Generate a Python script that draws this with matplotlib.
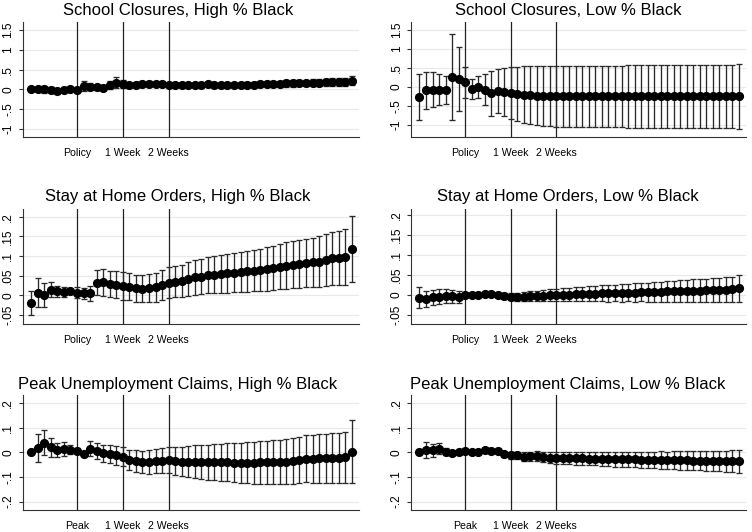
import matplotlib
matplotlib.use("Agg")
import matplotlib.pyplot as plt

plt.rcParams['font.family'] = ['Liberation Sans', 'DejaVu Sans']

# days relative to the event (policy / peak), -7 .. 42
days = list(range(-7, 43))

# School closures, high % Black
sc_high = [0.00, 0.00, 0.00, -0.01, -0.03, -0.02, 0.00, -0.01,
           0.08, 0.07, 0.05, 0.04, 0.12, 0.17, 0.13,
           0.10, 0.12, 0.14, 0.14, 0.13, 0.13, 0.12,
           0.12, 0.11, 0.10, 0.10, 0.12, 0.13, 0.12,
           0.11, 0.11, 0.11, 0.11, 0.12, 0.12, 0.13,
           0.13, 0.14, 0.14, 0.15, 0.15, 0.16, 0.16,
           0.17, 0.17, 0.18, 0.18, 0.19, 0.19, 0.22]
sc_high_ci = [0.02, 0.05, 0.08, 0.06, 0.04, 0.04, 0.04, 0.04,
              0.12, 0.09, 0.07, 0.06, 0.10, 0.14, 0.10,
              0.07, 0.07, 0.07, 0.06, 0.05, 0.04, 0.04,
              0.04, 0.04, 0.04, 0.04, 0.05, 0.05, 0.05,
              0.05, 0.05, 0.06, 0.06, 0.06, 0.06, 0.07,
              0.07, 0.07, 0.07, 0.08, 0.08, 0.08, 0.08,
              0.09, 0.09, 0.09, 0.10, 0.10, 0.10, 0.12]

# School closures, low % Black
sc_low = [-0.26, -0.09, -0.07, -0.07, -0.09, 0.26, 0.20, 0.12,
          -0.05, 0.00, -0.07, -0.17, -0.11, -0.13, -0.16,
          -0.19, -0.21, -0.22, -0.23, -0.24, -0.24, -0.25,
          -0.25, -0.25, -0.25, -0.25, -0.25, -0.25, -0.25,
          -0.25, -0.25, -0.25, -0.25, -0.25, -0.25, -0.25,
          -0.25, -0.25, -0.25, -0.25, -0.25, -0.25, -0.25,
          -0.25, -0.25, -0.25, -0.25, -0.25, -0.25, -0.25]
sc_low_ci = [0.61, 0.48, 0.45, 0.40, 0.37, 1.13, 0.84, 0.40,
             0.26, 0.28, 0.40, 0.59, 0.59, 0.63, 0.68,
             0.72, 0.75, 0.77, 0.78, 0.79, 0.79, 0.80,
             0.80, 0.80, 0.80, 0.80, 0.81, 0.81, 0.81,
             0.81, 0.81, 0.81, 0.82, 0.82, 0.82, 0.82,
             0.82, 0.82, 0.83, 0.83, 0.83, 0.83, 0.83,
             0.83, 0.84, 0.84, 0.84, 0.84, 0.84, 0.85]

# Stay at home orders, high % Black
sh_high = [-0.020, 0.007, 0.001, 0.014, 0.010, 0.008, 0.011, 0.006,
           0.005, 0.005, 0.032, 0.033, 0.029, 0.027, 0.024,
           0.022, 0.018, 0.017, 0.018, 0.020, 0.027, 0.032,
           0.035, 0.036, 0.042, 0.046, 0.048, 0.051, 0.052,
           0.054, 0.056, 0.058, 0.060, 0.061, 0.063, 0.065,
           0.067, 0.069, 0.073, 0.076, 0.078, 0.080, 0.082,
           0.084, 0.086, 0.090, 0.094, 0.096, 0.098, 0.118]
sh_high_ci = [0.030, 0.036, 0.030, 0.019, 0.014, 0.012, 0.008, 0.014,
              0.014, 0.020, 0.032, 0.034, 0.034, 0.035, 0.035,
              0.035, 0.035, 0.035, 0.036, 0.037, 0.038, 0.039,
              0.040, 0.041, 0.043, 0.044, 0.045, 0.046, 0.047,
              0.048, 0.049, 0.050, 0.051, 0.052, 0.053, 0.054,
              0.055, 0.056, 0.058, 0.059, 0.060, 0.061, 0.062,
              0.063, 0.064, 0.066, 0.067, 0.069, 0.071, 0.083]

# Stay at home orders, low % Black
sh_low = [-0.007, -0.010, -0.006, -0.004, -0.003, -0.003, -0.005, 0.000,
          0.000, 0.001, 0.002, 0.002, 0.000, -0.002, -0.004,
          -0.004, -0.004, -0.003, -0.003, -0.002, -0.001, 0.000,
          0.001, 0.001, 0.002, 0.002, 0.003, 0.003, 0.004,
          0.004, 0.005, 0.005, 0.006, 0.006, 0.007, 0.007,
          0.008, 0.008, 0.009, 0.009, 0.010, 0.010, 0.011,
          0.011, 0.012, 0.012, 0.013, 0.013, 0.014, 0.017]
sh_low_ci = [0.026, 0.021, 0.019, 0.018, 0.018, 0.016, 0.015, 0.002,
             0.003, 0.004, 0.004, 0.004, 0.005, 0.007, 0.009,
             0.010, 0.011, 0.012, 0.013, 0.014, 0.015, 0.016,
             0.017, 0.017, 0.018, 0.018, 0.019, 0.019, 0.020,
             0.021, 0.021, 0.022, 0.022, 0.023, 0.023, 0.024,
             0.025, 0.025, 0.026, 0.026, 0.027, 0.027, 0.028,
             0.029, 0.029, 0.030, 0.030, 0.031, 0.032, 0.034]

# Peak unemployment claims, high % Black
pu_high = [0.000, 0.017, 0.039, 0.020, 0.010, 0.013, 0.011, 0.007,
           -0.006, 0.014, 0.004, -0.005, -0.008, -0.012, -0.018,
           -0.030, -0.035, -0.040, -0.040, -0.036, -0.034, -0.031,
           -0.036, -0.038, -0.038, -0.038, -0.039, -0.040, -0.040,
           -0.041, -0.041, -0.042, -0.043, -0.043, -0.042, -0.040,
           -0.041, -0.040, -0.039, -0.038, -0.035, -0.032, -0.026,
           -0.026, -0.025, -0.025, -0.024, -0.023, -0.021, 0.003]
pu_high_ci = [0.000, 0.056, 0.050, 0.039, 0.029, 0.029, 0.020, 0.010,
              0.004, 0.031, 0.033, 0.034, 0.036, 0.038, 0.039,
              0.041, 0.043, 0.046, 0.048, 0.050, 0.052, 0.054,
              0.057, 0.060, 0.063, 0.066, 0.069, 0.071, 0.073,
              0.075, 0.077, 0.079, 0.081, 0.083, 0.085, 0.087,
              0.088, 0.089, 0.090, 0.091, 0.092, 0.094, 0.095,
              0.097, 0.098, 0.099, 0.100, 0.102, 0.104, 0.127]

# Peak unemployment claims, low % Black
pu_low = [0.000, 0.010, 0.008, 0.015, 0.002, -0.003, 0.000, 0.004,
          0.000, 0.003, 0.008, 0.006, 0.004, -0.008, -0.012,
          -0.013, -0.018, -0.017, -0.016, -0.020, -0.022, -0.023,
          -0.022, -0.023, -0.025, -0.025, -0.026, -0.026, -0.027,
          -0.027, -0.028, -0.028, -0.029, -0.029, -0.030, -0.030,
          -0.031, -0.031, -0.032, -0.032, -0.033, -0.033, -0.034,
          -0.034, -0.034, -0.035, -0.035, -0.036, -0.036, -0.037]
pu_low_ci = [0.000, 0.032, 0.027, 0.022, 0.014, 0.010, 0.006, 0.003,
             0.004, 0.005, 0.005, 0.005, 0.006, 0.010, 0.014,
             0.016, 0.018, 0.019, 0.020, 0.021, 0.022, 0.023,
             0.024, 0.025, 0.025, 0.026, 0.027, 0.027, 0.028,
             0.029, 0.030, 0.030, 0.031, 0.032, 0.032, 0.033,
             0.034, 0.035, 0.035, 0.036, 0.037, 0.038, 0.039,
             0.039, 0.040, 0.041, 0.042, 0.043, 0.044, 0.046]

sc_ticks = [-1, -0.5, 0, 0.5, 1, 1.5]
sc_labels = ['-1', '-.5', '0', '.5', '1', '1.5']
sh_ticks = [-0.05, 0, 0.05, 0.1, 0.15, 0.2]
sh_labels = ['-.05', '0', '.05', '.1', '.15', '.2']
pu_ticks = [-0.2, -0.1, 0, 0.1, 0.2]
pu_labels = ['-.2', '-.1', '0', '.1', '.2']

event_days = [0, 7, 14]
policy_names = ['Policy', '1 Week', '2 Weeks']
peak_names = ['Peak', '1 Week', '2 Weeks']

panels = [
    ("School Closures, High % Black", sc_high, sc_high_ci, sc_ticks, sc_labels, (-1.20, 1.70), policy_names),
    ("School Closures, Low % Black", sc_low, sc_low_ci, sc_ticks, sc_labels, (-1.32, 1.71), policy_names),
    ("Stay at Home Orders, High % Black", sh_high, sh_high_ci, sh_ticks, sh_labels, (-0.073, 0.22), policy_names),
    ("Stay at Home Orders, Low % Black", sh_low, sh_low_ci, sh_ticks, sh_labels, (-0.0725, 0.215), policy_names),
    ("Peak Unemployment Claims, High % Black", pu_high, pu_high_ci, pu_ticks, pu_labels, (-0.234, 0.232), peak_names),
    ("Peak Unemployment Claims, Low % Black", pu_low, pu_low_ci, pu_ticks, pu_labels, (-0.234, 0.232), peak_names),
]

W, H = 752, 532
fig = plt.figure(figsize=(W / 100, H / 100), dpi=100)

col_x = [(22.7, 359), (411, 746)]
row_y = [(22, 137), (209, 324), (395, 510)]
title_x = [178, 568]
title_y = [10.5, 196.5, 384]

for i, (title, est, ci, yt, yl, ylim, xnames) in enumerate(panels):
    r, c = divmod(i, 2)
    x0, x1 = col_x[c]
    y0, y1 = row_y[r]
    ax = fig.add_axes([x0 / W, 1 - y1 / H, (x1 - x0) / W, (y1 - y0) / H])
    ax.set_axisbelow(True)
    ax.yaxis.grid(True, color='#e9e9e9', lw=0.8)
    for d in event_days:
        ax.axvline(d, color='#222222', lw=0.9, zorder=1)
    ax.errorbar(days, est, yerr=ci, fmt='o', color='black', ecolor='#2a2a2a',
                elinewidth=0.95, capsize=2.4, capthick=0.95, markersize=5.6, zorder=3)
    ax.set_xlim(-8.3, 43.1)
    ax.set_ylim(*ylim)
    ax.set_yticks(yt)
    ax.set_yticklabels(yl, rotation=90, va='center', fontsize=8.6)
    ax.set_xticks(event_days)
    ax.set_xticklabels(xnames, fontsize=7.6)
    ax.tick_params(axis='x', length=0, pad=8)
    ax.tick_params(axis='y', length=3, width=0.8, pad=3, color='#333333')
    for s in ['top', 'right']:
        ax.spines[s].set_visible(False)
    for s in ['left', 'bottom']:
        ax.spines[s].set_color('#333333')
        ax.spines[s].set_linewidth(0.8)
    fig.text(title_x[c] / W, 1 - title_y[r] / H, title, ha='center', va='center', fontsize=12)

fig.savefig("out.png", dpi=100)
